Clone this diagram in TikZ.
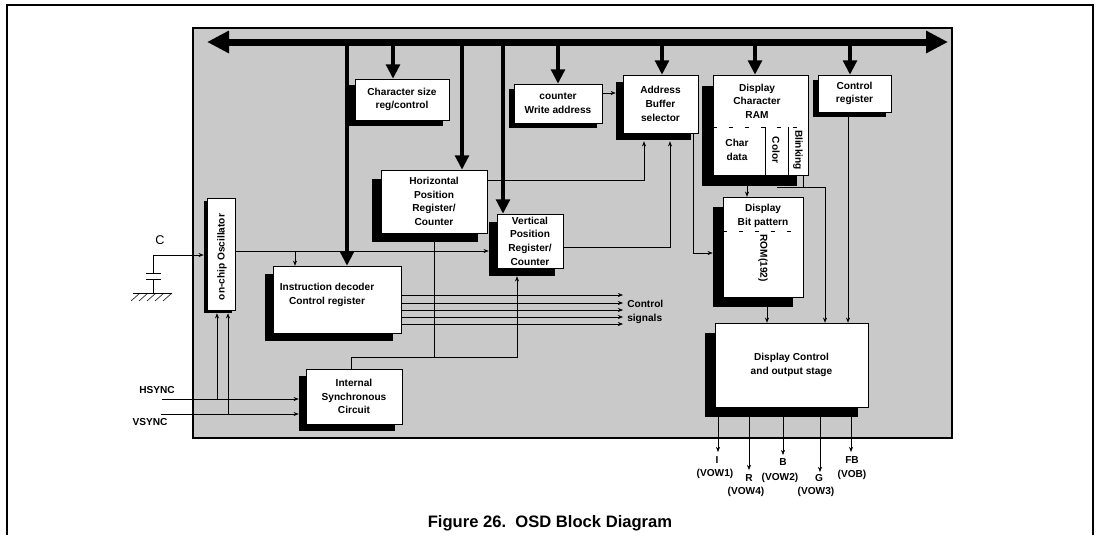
\documentclass[tikz,border=0pt]{standalone}
\usepackage{fontspec}
\setmainfont{Liberation Sans}
\usetikzlibrary{arrows.meta,shadows}

\begin{document}
\begin{tikzpicture}[x=0.25mm,y=-0.25mm,
  font=\fontsize{7.2}{9.7}\selectfont\bfseries,
  every node/.style={align=center},
  blk/.style 2 args={draw,fill=white,line width=0.35pt,inner sep=0pt,
    minimum width=#1*0.25mm,minimum height=#2*0.25mm},
  shd/.style={drop shadow={shadow xshift=-#1*0.25mm,shadow yshift=-#1*0.25mm,fill=black,opacity=1}},
  sig/.style={line width=0.4pt},
  arr/.style={-{Stealth[length=1.3mm,width=1mm]}},
  bus/.style={line width=1.75mm,{Triangle[length=5.5mm,width=5.3mm]}-{Triangle[length=5.5mm,width=5.3mm]}},
  busdrop/.style={line width=1.2mm,-{Triangle[length=3.6mm,width=3.4mm]}},
  cut/.style={line width=0.4pt,dash pattern=on 1mm off 3mm}]
\useasboundingbox (0,0) rectangle (1100,535);

\draw[line width=0.5mm] (7,535) -- (7,5) -- (1093,5) -- (1093,535);
\draw[line width=0.4mm,fill=black!21] (193,28) rectangle (952,438);

\draw (221,254) node[blk={28}{112},shd=3] (osc) {};
\draw (222,257) node[rotate=90] {on-chip Oscillator};
\draw (402,99.5) node[blk={94}{41},shd=6] (csz) {Character size\\reg/control};
\draw (434,201.5) node[blk={106}{63},shd=9] (hpr) {Horizontal\\Position\\Register/\\Counter};
\draw (530,241) node[blk={66}{54},shd=8] (vpr) {Vertical\\Position\\Register/\\Counter};
\draw (558,103.5) node[blk={88}{39},shd=5] (wad) {counter\\Write address};
\draw (660.5,104) node[blk={75}{58},shd=7] (abs) {Address\\Buffer\\selector};
\draw (760.5,125) node[blk={95}{100},shd=11] (dcr) {};
\draw (854.5,93.5) node[blk={73}{37},shd=5] (ctl) {Control\\register};
\draw (763,247) node[blk={80}{100},shd=10] (bit) {};
\draw (791.5,365) node[blk={153}{84},shd=10] (dco) {Display Control\\and output stage};
\draw (337,299.5) node[blk={128}{67},shd=8] (idc) {};
\draw (327,295) node {Instruction decoder\\Control register};
\draw (354,396.5) node[blk={96}{55},shd=7] (isc) {Internal\\Synchronous\\Circuit};

\draw (757,101) node {Display\\Character\\RAM};
\draw[cut] (dcr.west |- 0,127) -- (dcr.east |- 0,127);
\draw[sig] (765,127) -- (dcr.south -| 765,0) (788,127) -- (dcr.south -| 788,0);
\draw (737,150) node {Char\\data};
\draw (776,150) node[rotate=-90] {Color};
\draw (798,150) node[rotate=-90] {Blinking};

\draw (763,216) node {Display\\Bit pattern};
\draw[cut] (bit.west |- 0,231) -- (bit.east |- 0,231);
\draw (763,258) node[rotate=-90] {ROM(192)};

\draw[bus] (207,42) -- (948,42);
\foreach \x/\n in {347/idc,393/csz,462/hpr,503/vpr,558/wad,662/abs,755/dcr,850/ctl}
  \draw[busdrop] (\x,42) -- (\n.north -| \x,0);

\coordinate (cj) at (153,255);
\draw (160,240) node[font=\fontsize{9}{10}\selectfont] (clbl) {C};
\draw[sig,arr,shorten >=0.75mm] (cj) -- (osc.west |- cj);
\draw[sig] (cj) -- (153,273) (146,273) -- (161,273) (146,279) -- (161,279)
  (153,279) -- (153,293) (133,293) -- (172,293);
\foreach \x in {140,148,...,172}
  \draw[sig] (\x,293) -- (\x-9,301);

\draw[sig,arr,shorten >=2mm] (osc.east |- 0,251) -- (vpr.west |- 0,251);
\draw[sig,arr] (295,251) -- (idc.north -| 295,0);

\draw (157,390) node (hs) {HSYNC};
\draw (150,422) node (vs) {VSYNC};
\coordinate (hin) at (162,399);
\coordinate (vin) at (161,414);
\draw[sig,arr,shorten >=1.75mm] (hin) -- (isc.west |- hin);
\draw[sig,arr,shorten >=1.75mm] (vin) -- (isc.west |- vin);
\draw[sig,arr,shorten >=0.75mm] (217,399) -- (osc.south -| 217,0);
\draw[sig,arr,shorten >=0.75mm] (228,414) -- (osc.south -| 228,0);

\draw[sig,arr,shorten >=2mm] (isc.north -| 351,0) -- (351,357) -- (517,357) -- (vpr.south -| 517,0);
\draw[sig] (hpr.south) -- (434,357);

\draw[sig,arr,shorten >=2mm] (hpr.east |- 0,180) -- (644,180) -- (abs.south -| 644,0);
\draw[sig,arr,shorten >=2mm] (vpr.east |- 0,247) -- (670,247) -- (abs.south -| 670,0);
\draw[sig,arr,shorten >=1.75mm] (wad.east |- 0,93) -- (abs.west |- 0,93);
\draw[sig,arr,shorten >=2.5mm] (abs.south -| 693,0) -- (693,253) -- (bit.west |- 0,253);

\draw[sig,arr] (dcr.south -| 747,0) -- (bit.north -| 747,0);
\draw[sig,arr] (777,187) -- (825,187) -- (dco.north -| 825,0);
\draw[sig] (dcr.south -| 803,0) -- (803,187);
\draw[sig,arr] (ctl.south -| 848,0) -- (dco.north -| 848,0);
\draw[sig,arr] (bit.south -| 767,0) -- (dco.north -| 767,0);

\foreach \y in {295,303,310,317,324}
  \draw[sig,arr] (idc.east |- 0,\y) -- (623,\y);
\draw (627,304) node[right,inner sep=0pt] (cs1) {Control};
\draw (627,319) node[right,inner sep=0pt] (cs2) {signals};

\foreach \x/\y in {718/452,749/470,783/455,820/472,851/452}
  \draw[sig,arr] (dco.south -| \x,0) -- (\x,\y);
\draw (717,460) node (oi) {I};
\draw (715,474) node {(VOW1)};
\draw (749,478) node (or) {R};
\draw (746,492) node {(VOW4)};
\draw (783,462) node (ob) {B};
\draw (780,478) node {(VOW2)};
\draw (819,478) node (og) {G};
\draw (816,492) node {(VOW3)};
\draw (852,460) node (ofb) {FB};
\draw (852,475) node {(VOB)};

\draw (550,523) node[font=\fontsize{11.8}{14}\selectfont\bfseries] (cap) {Figure 26.\ \ OSD Block Diagram};
\end{tikzpicture}
\end{document}
